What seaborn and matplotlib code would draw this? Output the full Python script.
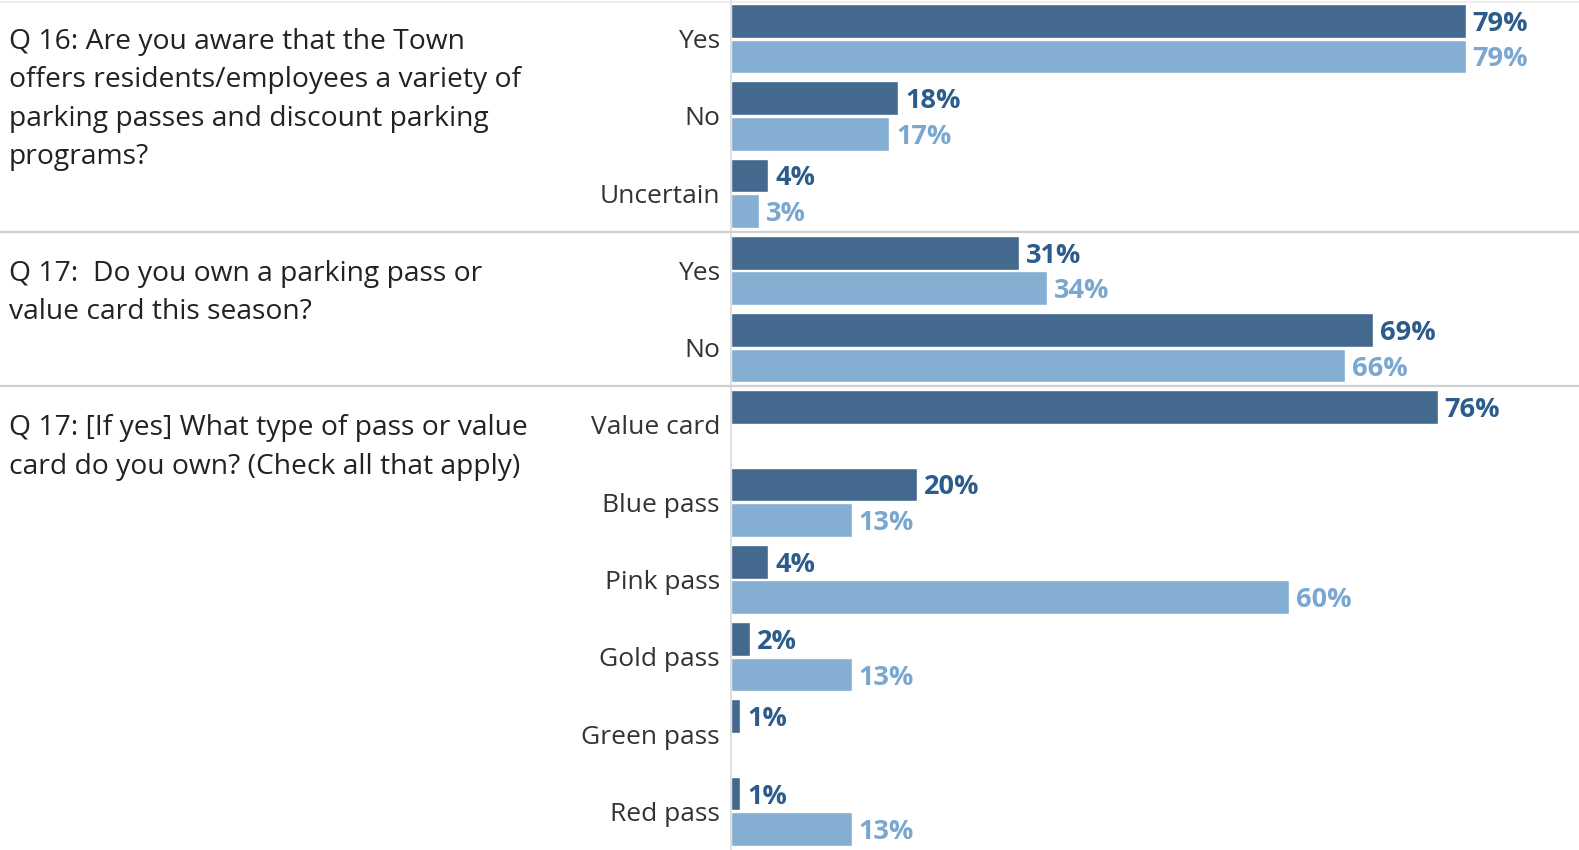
import numpy as np
import pandas as pd
import matplotlib
matplotlib.use("Agg")
import matplotlib.pyplot as plt
import matplotlib.transforms as mtransforms
from matplotlib.lines import Line2D
import seaborn as sns

# ---------------- data ----------------
questions = [
    "Q 16: Are you aware that the Town\noffers residents/employees a variety of\nparking passes and discount parking\nprograms?",
    "Q 17:  Do you own a parking pass or\nvalue card this season?",
    "Q 17: [If yes] What type of pass or value\ncard do you own? (Check all that apply)",
]
q16_cats = ["Yes", "No", "Uncertain"]
q17_cats = ["Yes", "No"]
q17b_cats = ["Value card", "Blue pass", "Pink pass", "Gold pass", "Green pass", "Red pass"]

q16_dark = [79, 18, 4]
q16_light = [79, 17, 3]
q17_dark = [31, 69]
q17_light = [34, 66]
q17b_dark = [76, 20, 4, 2, 1, 1]
q17b_light = [np.nan, 13, 60, 13, np.nan, 13]

series_names = ["Series A", "Series B"]

# ---------------- build frame ----------------
groups = [(q16_cats, q16_dark, q16_light),
          (q17_cats, q17_dark, q17_light),
          (q17b_cats, q17b_dark, q17b_light)]
rows = []
keys = []
labels = []
group_start = []
for gi, (cats, d, l) in enumerate(groups):
    group_start.append(len(keys))
    for c, dv, lv in zip(cats, d, l):
        k = f"{gi}_{c}"
        keys.append(k)
        labels.append(c)
        rows.append({"key": k, "series": series_names[0], "value": dv})
        rows.append({"key": k, "series": series_names[1], "value": lv})
df = pd.DataFrame(rows)

DARK = "#44698f"
LIGHT = "#84aed2"
DARK_TXT = "#2c5c8c"
LIGHT_TXT = "#7aa7d0"

sns.set_style("white")
plt.rcParams["font.family"] = ["Open Sans", "DejaVu Sans"]

W, H = 1579, 850
fig = plt.figure(figsize=(W / 100, H / 100), dpi=100)
x0 = 731
ax = fig.add_axes([x0 / W, 0, (W - x0) / W, 1])

sns.barplot(data=df, y="key", x="value", hue="series", order=keys,
            hue_order=series_names, orient="h", palette=[DARK, LIGHT],
            width=0.92, gap=0.05, legend=False, ax=ax, saturation=1, errorbar=None)

ax.set_xlim(0, (W - x0) / 9.3)
ax.set_ylim(len(keys) - 0.5, -0.5)
ax.set_xlabel("")
ax.set_ylabel("")
ax.set_xticks([])
ax.set_yticks(range(len(keys)))
ax.set_yticklabels(labels, fontsize=19, color="#333333")
ax.tick_params(axis="y", length=0, pad=8)
for s in ["top", "right", "bottom"]:
    ax.spines[s].set_visible(False)
ax.spines["left"].set_color("#d9d9d9")
ax.spines["left"].set_linewidth(1.2)

for cont, col in zip(ax.containers, [DARK_TXT, LIGHT_TXT]):
    labs = [f"{v:.0f}%" if np.isfinite(v) and v > 0 else "" for v in cont.datavalues]
    texts = ax.bar_label(cont, labels=labs, padding=5, color=col,
                         fontweight="bold", fontsize=19.5)
    for t in texts:
        t.set_verticalalignment("center_baseline")

# question text and separators
trans = mtransforms.blended_transform_factory(fig.transFigure, ax.transData)
for q, gs in zip(questions, group_start):
    for i, line in enumerate(q.split("\n")):
        ax.text(9 / W, gs + i * 0.495, line, transform=trans, ha="left",
                va="center_baseline", fontsize=20.3, color="#222222", clip_on=False)

for gs in group_start[1:]:
    fig.add_artist(Line2D([0, 1], [gs - 0.5, gs - 0.5], transform=trans,
                          color="#d0d0d0", lw=1.6))
fig.add_artist(Line2D([0, 1], [-0.47, -0.47], transform=trans,
                      color="#ebebeb", lw=1.2))

fig.savefig("out.png", dpi=100)
